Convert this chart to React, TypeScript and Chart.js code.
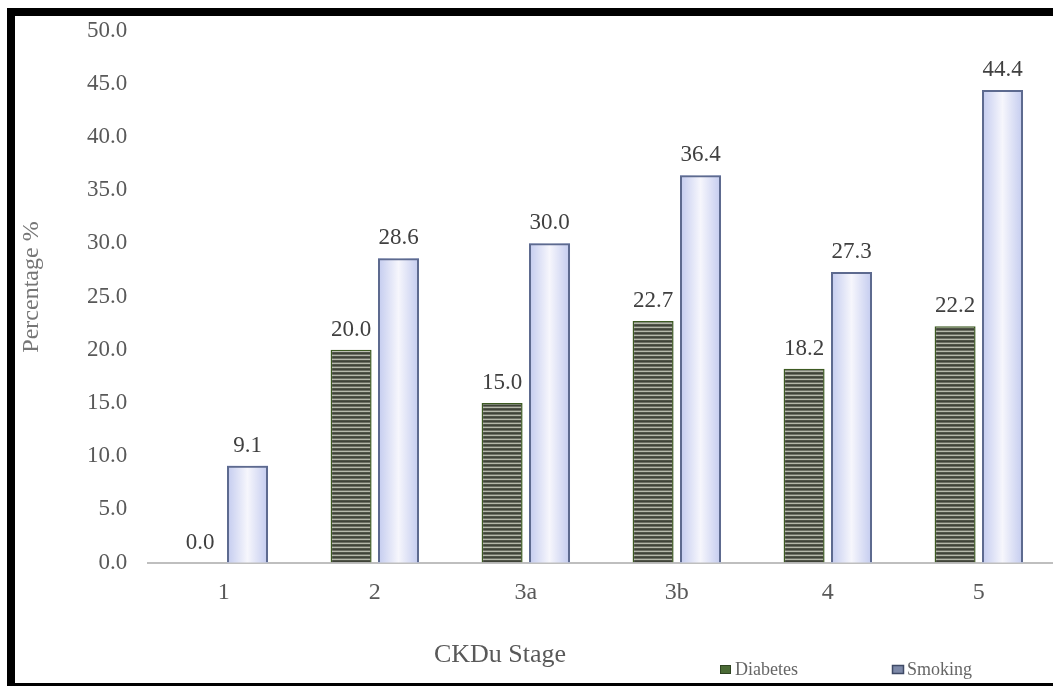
import { useEffect, useRef } from "react";
import { Chart, registerables } from "chart.js";

Chart.register(...registerables);

const categories = ["1", "2", "3a", "3b", "4", "5"];
const diabetes = [0.0, 20.0, 15.0, 22.7, 18.2, 22.2];
const smoking = [9.1, 28.6, 30.0, 36.4, 27.3, 44.4];
const seriesNames = ["Diabetes", "Smoking"];
const yTitle = "Percentage %";
const xTitle = "CKDu Stage";
const yMin = 0;
const yMax = 50;
const yStep = 5;

const SERIF = "'Liberation Serif', 'Times New Roman', serif";

function makeStripePattern(): CanvasPattern | string {
  const c = document.createElement("canvas");
  c.width = 4;
  c.height = 4;
  const g = c.getContext("2d");
  if (!g) return "#555a4c";
  const rows = ["#4f5347", "#3f4338", "#6d7064", "#b5b8aa"];
  rows.forEach((col, i) => {
    g.fillStyle = col;
    g.fillRect(0, i, 4, 1);
  });
  const p = g.createPattern(c, "repeat");
  return p || "#555a4c";
}

const customPlugin = {
  id: "customDraw",
  beforeDatasetDraw(chart: any, args: any) {
    if (args.index !== 1) return;
    const ctx = chart.ctx as CanvasRenderingContext2D;
    ctx.save();
    args.meta.data.forEach((el: any) => {
      const { x, y, base, width } = el.getProps(["x", "y", "base", "width"], true);
      const g = ctx.createLinearGradient(x - width / 2, 0, x + width / 2, 0);
      g.addColorStop(0, "#c3cbef");
      g.addColorStop(0.5, "#f6f6fc");
      g.addColorStop(1, "#c3cbef");
      ctx.fillStyle = g;
      ctx.fillRect(x - width / 2, y, width, base - y);
    });
    ctx.restore();
  },
  afterDatasetsDraw(chart: any) {
    const ctx = chart.ctx as CanvasRenderingContext2D;
    ctx.save();
    ctx.font = `23px ${SERIF}`;
    ctx.fillStyle = "#404040";
    ctx.textAlign = "center";
    ctx.textBaseline = "alphabetic";
    chart.data.datasets.forEach((ds: any, di: number) => {
      const meta = chart.getDatasetMeta(di);
      meta.data.forEach((el: any, i: number) => {
        const { x, y } = el.getProps(["x", "y"], true);
        ctx.fillText(Number(ds.data[i]).toFixed(1), x, y - 14);
      });
    });
    ctx.restore();
  },
  afterDraw(chart: any) {
    const ctx = chart.ctx as CanvasRenderingContext2D;
    ctx.save();
    // y title
    ctx.fillStyle = "#767676";
    ctx.font = `24px ${SERIF}`;
    ctx.translate(23, 271);
    ctx.rotate(-Math.PI / 2);
    ctx.textAlign = "center";
    ctx.textBaseline = "alphabetic";
    ctx.fillText(yTitle, 0, 0);
    ctx.restore();

    ctx.save();
    ctx.fillStyle = "#595959";
    ctx.font = `26px ${SERIF}`;
    ctx.textAlign = "center";
    ctx.textBaseline = "alphabetic";
    ctx.fillText(xTitle, 485, 646);

    // legend
    ctx.font = `18px ${SERIF}`;
    ctx.textAlign = "left";
    // Diabetes marker
    ctx.fillStyle = "#4a6a35";
    ctx.fillRect(705, 649, 11, 9);
    ctx.strokeStyle = "#2f4422";
    ctx.lineWidth = 1;
    ctx.strokeRect(705.5, 649.5, 10, 8);
    ctx.fillStyle = "#666666";
    ctx.fillText(seriesNames[0], 720, 659);
    // Smoking marker
    ctx.fillStyle = "#7d89a8";
    ctx.fillRect(877, 649, 12, 9);
    ctx.strokeStyle = "#3f4a66";
    ctx.lineWidth = 1.5;
    ctx.strokeRect(877.5, 649.5, 11, 8);
    ctx.fillStyle = "#666666";
    ctx.fillText(seriesNames[1], 892, 659);
    ctx.restore();
  },
};

export default function App() {
  const ref = useRef<HTMLCanvasElement | null>(null);

  useEffect(() => {
    if (!ref.current) return;
    const stripe = makeStripePattern();
    const chart = new Chart(ref.current, {
      type: "bar",
      data: {
        labels: categories,
        datasets: [
          {
            label: seriesNames[0],
            data: diabetes,
            backgroundColor: stripe as any,
            borderColor: "#3d5a22",
            borderWidth: 1.5,
            categoryPercentage: 0.628,
            barPercentage: 0.865,
          },
          {
            label: seriesNames[1],
            data: smoking,
            backgroundColor: "rgba(0,0,0,0)",
            borderColor: "#5d6a8f",
            borderWidth: 2,
            categoryPercentage: 0.628,
            barPercentage: 0.865,
          },
        ],
      },
      options: {
        responsive: true,
        maintainAspectRatio: false,
        animation: false,
        layout: { padding: { top: 14.5, right: 5.7, left: 0, bottom: 0 } },
        plugins: {
          legend: { display: false },
          tooltip: { enabled: false },
        },
        scales: {
          x: {
            grid: { display: false, drawTicks: false },
            border: { display: true, color: "#bfbfbf", width: 2 },
            ticks: { font: { family: SERIF, size: 24 }, color: "#595959", padding: 16 },
            afterFit(s: any) {
              s.height = 120.5;
            },
          },
          y: {
            min: yMin,
            max: yMax,
            grid: { display: false, drawTicks: false },
            border: { display: false },
            ticks: {
              stepSize: yStep,
              padding: 21,
              color: "#595959",
              font: { family: SERIF, size: 23 },
              callback: (v: any) => Number(v).toFixed(1),
            },
            afterFit(s: any) {
              s.width = 133.3;
              s.paddingTop = 0;
              s.paddingBottom = 0;
            },
          },
        },
      },
      plugins: [customPlugin as any],
    });
    return () => chart.destroy();
  }, []);

  return (
    <div
      style={{
        position: "absolute",
        left: 7,
        top: 8,
        width: 1046,
        height: 678,
        boxSizing: "border-box",
        borderLeft: "8px solid #000",
        borderTop: "8px solid #000",
        borderBottom: "3px solid #000",
        overflow: "hidden",
        background: "#fff",
      }}
    >
      <div style={{ position: "absolute", left: 0, top: 0, width: 1045, height: 667 }}>
        <canvas ref={ref} />
      </div>
    </div>
  );
}
